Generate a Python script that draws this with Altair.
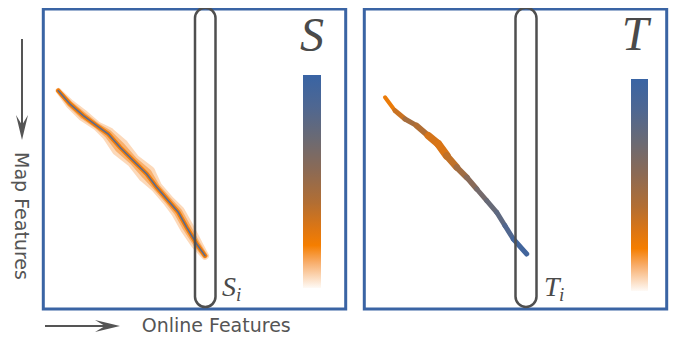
import altair as alt
import pandas as pd

# ---------------- data ----------------
# Panel S: trajectory (online-feature position, map-feature position) and halo spread
s_online = [58.3, 70, 83.3, 96.7, 108.3, 120, 133.3, 146.7, 156.7, 168.3, 178.3, 186.7, 196.7, 205]
s_map = [86.7, 100, 111.7, 121.7, 130, 143.3, 156.7, 170, 183.3, 196.7, 208.3, 223.3, 240, 251.7]
s_spread = [3, 6, 8, 6, 10, 14, 10, 14, 8, 8, 10, 10, 8, 5]

# Panel T: trajectory with a colour value (0 = light, 1 = blue) and thickness
t_online = [385, 395, 405, 416.7, 428.3, 438.3, 446.7, 456.7, 466.7, 476.7, 486.7, 496.7, 505, 513.3, 526.7]
t_map = [93.3, 106.7, 115, 121.7, 131.7, 140, 151.7, 163.3, 173.3, 185, 196.7, 208.3, 221.7, 235, 250]
t_value = [0.22, 0.25, 0.42, 0.48, 0.33, 0.28, 0.3, 0.42, 0.52, 0.62, 0.7, 0.74, 0.8, 0.88, 1.0]
t_width = [3, 5, 5, 5, 7, 8, 8, 6, 6, 5, 5, 5, 5, 5, 5]

# Colour bar (top -> bottom)
cbar_offsets = [0, 0.15, 0.30, 0.45, 0.60, 0.72, 0.80, 0.88, 1.0]
cbar_colors = ["#3964a4", "#4f6791", "#6b6a73", "#8c6a54", "#b26e33",
               "#dd7613", "#f57e00", "#f8ad6a", "#fefaf6"]

panel_titles = ["S", "T"]
column_letters = ["S", "T"]
column_sub = "i"
map_label = "Map Features"
online_label = "Online Features"

# ---------------- layout ----------------
W, H = 662, 329
DY = 4
BLUE = "#3a64a4"
GREY = "#555555"

xs = alt.Scale(domain=[8, 670], nice=False, zero=False)
ys = alt.Scale(domain=[8 - DY, 337 - DY], nice=False, zero=False, reverse=True)


def X(f="x"):
    return alt.X(f"{f}:Q", scale=xs, axis=None)


def Y(f="y"):
    return alt.Y(f"{f}:Q", scale=ys, axis=None)


frames = pd.DataFrame({"x": [43.3, 364.3], "x2": [345.7, 666.7], "y": [5, 5], "y2": [305, 305]})
pills = pd.DataFrame({"x": [195, 515.5], "x2": [215.5, 536.5], "y": [3.8, 3.8], "y2": [303, 303]})
cbars = pd.DataFrame({"x": [303, 631], "x2": [321, 648], "y": [71, 75], "y2": [284, 287]})

frame_layer = alt.Chart(frames).mark_rect(filled=False, stroke=BLUE, strokeWidth=3).encode(
    x=X(), x2="x2:Q", y=Y(), y2="y2:Q")
pill_layer = alt.Chart(pills).mark_rect(filled=False, stroke="#4f4f4f", strokeWidth=2.5, cornerRadius=11).encode(
    x=X(), x2="x2:Q", y=Y(), y2="y2:Q")
grad = alt.LinearGradient(
    gradient="linear",
    stops=[alt.GradientStop(color=c, offset=o) for o, c in zip(cbar_offsets, cbar_colors)],
    x1=0, x2=0, y1=0, y2=1)
cbar_layer = alt.Chart(cbars).mark_rect(fill=grad).encode(x=X(), x2="x2:Q", y=Y(), y2="y2:Q")

# Panel S trajectory
sdf = pd.DataFrame({"x": s_online, "y": s_map, "i": list(range(len(s_online)))})
sdf["w_outer"] = [s * 1.2 + 2 for s in s_spread]
sdf["w_mid"] = [s * 0.65 + 2 for s in s_spread]
halo_outer = alt.Chart(sdf).mark_trail(color="#f8aa66", opacity=0.45).encode(
    x=X(), y=Y(), size=alt.Size("w_outer:Q", scale=None, legend=None), order="i:Q")
halo_mid = alt.Chart(sdf).mark_trail(color="#f5953a", opacity=0.6).encode(
    x=X(), y=Y(), size=alt.Size("w_mid:Q", scale=None, legend=None), order="i:Q")
halo_core = alt.Chart(sdf).mark_line(color="#f07d0c", strokeWidth=4.5, strokeCap="round").encode(
    x=X(), y=Y(), order="i:Q")
core_line = alt.Chart(sdf).mark_line(color="#5a6a8c", strokeWidth=1.6, strokeCap="round").encode(
    x=X(), y=Y(), order="i:Q")

# Panel T trajectory as coloured segments
n = len(t_online)
tdf = pd.DataFrame({
    "x": t_online[:-1], "x2": t_online[1:],
    "y": t_map[:-1], "y2": t_map[1:],
    "v": [(t_value[k] + t_value[k + 1]) / 2 for k in range(n - 1)],
    "w": [(t_width[k] + t_width[k + 1]) / 2 for k in range(n - 1)],
})
cdomain = [1 - o for o in cbar_offsets][::-1]
crange = cbar_colors[::-1]
t_layer = alt.Chart(tdf).mark_rule(strokeCap="round").encode(
    x=X(), x2="x2:Q", y=Y(), y2="y2:Q",
    color=alt.Color("v:Q", scale=alt.Scale(domain=cdomain, range=crange, interpolate="rgb"), legend=None),
    size=alt.Size("w:Q", scale=None, legend=None))

# Titles
titles = pd.DataFrame({"x": [312, 635], "y": [47, 46], "t": panel_titles})
title_layer = alt.Chart(titles).mark_text(
    font="Liberation Serif", fontStyle="italic", fontSize=48, color="#4a4a4a",
    align="center", baseline="alphabetic").encode(x=X(), y=Y(), text="t:N")

sub_main = pd.DataFrame({"x": [222, 544], "y": [292, 292], "t": column_letters})
sub_main_layer = alt.Chart(sub_main).mark_text(
    font="Liberation Serif", fontStyle="italic", fontSize=28, color="#4a4a4a",
    align="left", baseline="alphabetic").encode(x=X(), y=Y(), text="t:N")
sub_i = pd.DataFrame({"x": [236, 559], "y": [297, 297], "t": [column_sub, column_sub]})
sub_i_layer = alt.Chart(sub_i).mark_text(
    font="Liberation Serif", fontStyle="italic", fontSize=19, color="#4a4a4a",
    align="left", baseline="alphabetic").encode(x=X(), y=Y(), text="t:N")

# Axis labels
map_df = pd.DataFrame({"x": [21], "y": [212], "t": [map_label]})
map_layer = alt.Chart(map_df).mark_text(
    font="DejaVu Sans", fontSize=19, color=GREY, angle=90,
    align="center", baseline="middle").encode(x=X(), y=Y(), text="t:N")
online_df = pd.DataFrame({"x": [141.7], "y": [322], "t": [online_label]})
online_layer = alt.Chart(online_df).mark_text(
    font="DejaVu Sans", fontSize=19, color=GREY,
    align="left", baseline="middle").encode(x=X(), y=Y(), text="t:N")

# Arrows
shafts = pd.DataFrame({"x": [22, 45], "x2": [22, 110], "y": [35, 322], "y2": [124, 322]})
shaft_layer = alt.Chart(shafts).mark_rule(color=GREY, strokeWidth=2).encode(
    x=X(), x2="x2:Q", y=Y(), y2="y2:Q")
head_down = alt.Chart(pd.DataFrame({"x": [22], "y": [123.5]})).mark_point(
    shape="M0,1 L-0.48,-1 L0,-0.2 L0.48,-1 Z", filled=True, size=625, color=GREY,
    opacity=1, strokeWidth=0).encode(x=X(), y=Y())
head_right = alt.Chart(pd.DataFrame({"x": [107.5], "y": [322]})).mark_point(
    shape="M1,0 L-1,-0.48 L-0.2,0 L-1,0.48 Z", filled=True, size=625, color=GREY,
    opacity=1, strokeWidth=0).encode(x=X(), y=Y())

chart = alt.layer(
    frame_layer, cbar_layer,
    halo_outer, halo_mid, halo_core, core_line,
    t_layer,
    pill_layer,
    title_layer, sub_main_layer, sub_i_layer,
    map_layer, online_layer,
    shaft_layer, head_down, head_right,
).properties(
    width=W, height=H, padding=0, autosize=alt.AutoSizeParams(type="none"),
    background="white",
).configure_view(stroke=None)

chart.save("out.html", embed_options={"renderer": "svg", "actions": False})
